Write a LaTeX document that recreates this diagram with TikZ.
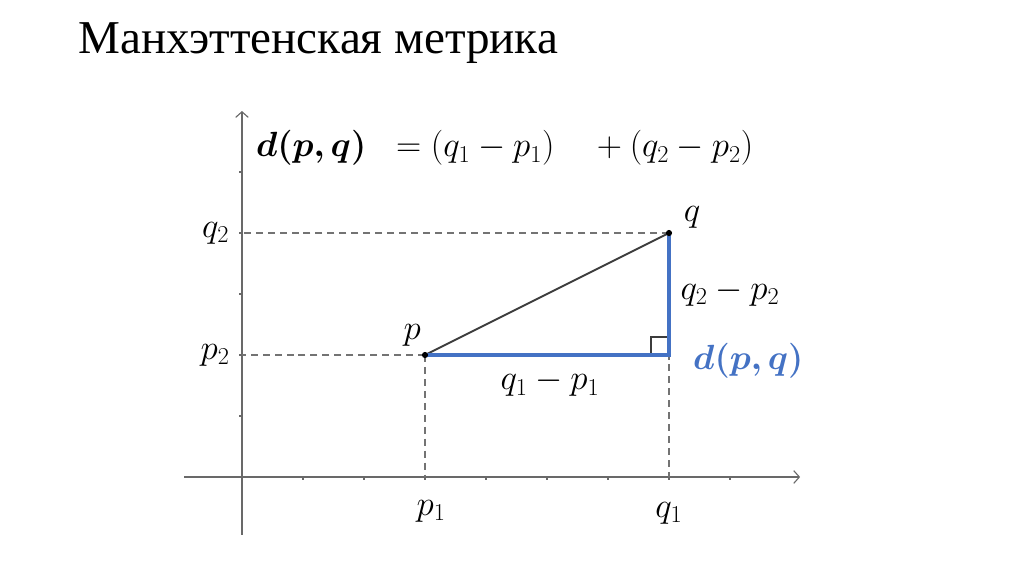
\documentclass[tikz,border=0pt]{standalone}
\usepackage{amsmath,bm}
\usepackage{fontspec}
\newfontfamily\titlefont{Liberation Serif}
\usetikzlibrary{arrows.meta}
\tikzset{>={Straight Barb[length=4pt,width=9pt]}}
\definecolor{axisgray}{RGB}{105,105,105}
\definecolor{dashgray}{RGB}{115,115,115}
\definecolor{hypgray}{RGB}{60,60,60}
\definecolor{manblue}{RGB}{68,114,196}
\tikzstyle{axisline}=[draw=axisgray,line width=0.8pt]
\tikzstyle{dashline}=[draw=dashgray,line width=0.8pt,dash pattern=on 5pt off 3.5pt]
\tikzstyle{hypline}=[draw=hypgray,line width=1.4pt]
\tikzstyle{blueline}=[draw=manblue,line width=3.5pt]
\tikzstyle{lbl}=[font=\fontsize{24.5}{29}\selectfont]

\begin{document}
\begin{tikzpicture}[x=1.525cm,y=1.525cm]
  \useasboundingbox (-3.967,-1.590) rectangle (12.820,7.820);
  \coordinate (Xl) at (-0.95,0);
  \coordinate (Xr) at (9.15,0);
  \coordinate (Yb) at (0,-0.95);
  \coordinate (Yt) at (0,6);
  \coordinate (P) at (3,2);
  \coordinate (Q) at (7,4);
  \coordinate (R) at (7,2);
  \coordinate (P1) at (3,0);
  \coordinate (P2) at (0,2);
  \coordinate (Q1) at (7,0);
  \coordinate (Q2) at (0,4);
  \coordinate (Ra) at (6.7,2);
  \coordinate (Rb) at (7,2.3);

  \draw[axisline,->] (Xl) -- (Xr);
  \draw[axisline,->] (Yb) -- (Yt);
  \foreach \i in {1,...,8} \draw[axisline] (\i,0) -- (\i,-0.05);
  \foreach \j in {1,...,5} \draw[axisline] (0,\j) -- (-0.05,\j);

  \draw[dashline] (P) -- (P1);
  \draw[dashline] (P) -- (P2);
  \draw[dashline] (Q) -- (Q1);
  \draw[dashline] (Q) -- (Q2);
  \draw[hypline] (P) -- (Q);
  \draw[hypline] (Ra) |- (Rb);
  \draw[blueline] (P) -- (R) -- (Q);
  \fill (P) circle (2.2pt);
  \fill (Q) circle (2.2pt);

  \node[anchor=base west,font=\titlefont\fontsize{33.5}{40}\selectfont] (T) at (-2.76,6.95) {Манхэттенская метрика};
  \node[lbl,anchor=base west] (F) at (0.15,5.25) {$\bm{d(p,q)}\ \;= (q_1-p_1)\quad+(q_2-p_2)$};

  \node[lbl] (Lq2) at (-0.43,4)    {$q_2$};
  \node[lbl] (Lp2) at (-0.44,2)    {$p_2$};
  \node[lbl] (Lp1) at ( 3.10,-0.56) {$p_1$};
  \node[lbl] (Lq1) at ( 7.00,-0.60) {$q_1$};
  \node[lbl] (Lp)  at ( 2.79,2.33) {$p$};
  \node[lbl] (Lq)  at ( 7.38,4.25) {$q$};
  \node[lbl] (Lh)  at ( 5.05,1.54) {$q_1-p_1$};
  \node[lbl] (Lv)  at ( 8.00,3.02) {$q_2-p_2$};
  \node[lbl,font=\fontsize{29}{34}\selectfont,text=manblue] (Ld) at (8.30,1.90) {$\bm{d(p,q)}$};
\end{tikzpicture}
\end{document}
